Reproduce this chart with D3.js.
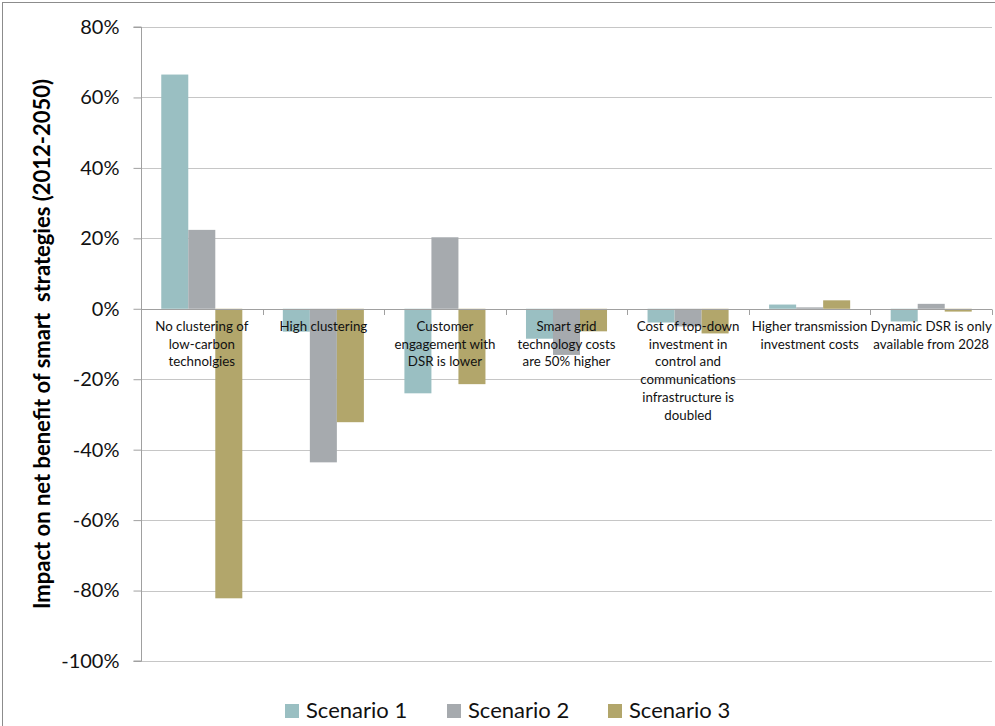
<!DOCTYPE html>
<html>
<head>
<meta charset="utf-8">
<script src="https://cdn.jsdelivr.net/npm/d3@7"></script>
<style>
  html, body { margin: 0; padding: 0; background: #fff; }
  svg { display: block; font-family: Lato, "Open Sans", sans-serif; }
</style>
</head>
<body>
<svg id="chart" width="995" height="726"></svg>
<script>
// Sensitivity cases (multi-line category labels)
const categories = [
  ["No clustering of", "low-carbon", "technolgies"],
  ["High clustering"],
  ["Customer", "engagement with", "DSR is lower"],
  ["Smart grid", "technology costs", "are 50% higher"],
  ["Cost of top-down", "investment in", "control and", "communications", "infrastructure is", "doubled"],
  ["Higher transmission", "investment costs"],
  ["Dynamic DSR is only", "available from 2028"]
];
const seriesNames = ["Scenario 1", "Scenario 2", "Scenario 3"];
// Impact on net benefit, percent
const scenario1 = [66.5, -6.5, -24.0, -8.5, -3.9, 1.2, -3.6];
const scenario2 = [22.4, -43.6, 20.3, -13.1, -5.0, 0.4, 1.4];
const scenario3 = [-82.2, -32.2, -21.4, -6.4, -7.0, 2.4, -0.8];
const yTicks = [80, 60, 40, 20, 0, -20, -40, -60, -80, -100];
const colors = ["#9abfc2", "#a6aaae", "#b2a66b"];

const seriesValues = [scenario1, scenario2, scenario3];
const svg = d3.select("#chart");

// outer chart frame
svg.append("rect")
  .attr("x", 2.5).attr("y", 2.5)
  .attr("width", 1100).attr("height", 900)
  .attr("fill", "none").attr("stroke", "#8c8c8c").attr("stroke-width", 1);

const plot = { left: 141, right: 992, top: 27, bottom: 661 };

const x0 = d3.scaleBand()
  .domain(d3.range(categories.length))
  .range([plot.left, plot.right])
  .paddingInner(1 / 3)
  .paddingOuter(1 / 6);
const x1 = d3.scaleBand()
  .domain(d3.range(seriesNames.length))
  .range([0, x0.bandwidth()]);
const y = d3.scaleLinear().domain([-100, 80]).range([plot.bottom, plot.top]);

// horizontal gridlines
svg.append("g")
  .selectAll("line")
  .data(yTicks)
  .join("line")
  .attr("x1", plot.left).attr("x2", plot.right)
  .attr("y1", d => Math.round(y(d)) + 0.5).attr("y2", d => Math.round(y(d)) + 0.5)
  .attr("stroke", "#c6c6c6").attr("stroke-width", 1.2);

// y axis
const yAxis = d3.axisLeft(y)
  .tickValues(yTicks)
  .tickFormat(d => d + "%")
  .tickSize(8)
  .tickPadding(14);
const gy = svg.append("g")
  .attr("transform", `translate(${plot.left + 0.5},0)`)
  .call(yAxis);
gy.select(".domain").attr("stroke", "#a0a0a0").attr("d", `M-8,${y(80)}H0V${y(-100)}H-8`);
gy.selectAll(".tick line").attr("stroke", "#a0a0a0");
gy.selectAll(".tick text")
  .attr("fill", "#111")
  .style("font-size", "20px")
  .style("font-family", "Lato, 'Open Sans', sans-serif");

// bars
const groups = svg.append("g")
  .selectAll("g")
  .data(categories.map((c, i) => i))
  .join("g")
  .attr("transform", i => `translate(${x0(i)},0)`);
groups.selectAll("rect")
  .data(i => seriesValues.map((s, k) => ({ k, v: s[i] })))
  .join("rect")
  .attr("x", d => x1(d.k))
  .attr("width", x1.bandwidth())
  .attr("y", d => y(Math.max(0, d.v)))
  .attr("height", d => Math.abs(y(d.v) - y(0)))
  .attr("fill", d => colors[d.k]);

// category axis along zero
const xAxis = d3.axisBottom(x0).tickSize(0).tickFormat("");
const gx = svg.append("g")
  .attr("transform", `translate(0,${Math.round(y(0)) + 0.5})`)
  .call(xAxis);
gx.select(".domain").attr("stroke", "#a0a0a0").attr("d", `M${plot.left},0H${plot.right}`);
// category separator ticks
svg.append("g")
  .selectAll("line")
  .data(d3.range(1, categories.length + 1))
  .join("line")
  .attr("x1", i => Math.round(plot.left + i * x0.step()) + 0.5)
  .attr("x2", i => Math.round(plot.left + i * x0.step()) + 0.5)
  .attr("y1", Math.round(y(0)) + 0.5)
  .attr("y2", Math.round(y(0)) + 6)
  .attr("stroke", "#a0a0a0");

// category labels (drawn over the bars)
const labels = svg.append("g")
  .selectAll("text")
  .data(categories)
  .join("text")
  .attr("x", (d, i) => x0(i) + x0.bandwidth() / 2)
  .attr("y", y(0) + 22)
  .attr("text-anchor", "middle")
  .attr("fill", "#111")
  .style("font-size", "13.3px");
labels.selectAll("tspan")
  .data(d => d)
  .join("tspan")
  .attr("x", function () { return d3.select(this.parentNode).attr("x"); })
  .attr("dy", (d, j) => j === 0 ? 0 : 17.8)
  .text(d => d);

// y axis title
svg.append("text")
  .attr("transform", `translate(50,344) rotate(-90)`)
  .attr("text-anchor", "middle")
  .attr("fill", "#000")
  .style("font-size", "22px")
  .style("font-weight", "bold")
  .style("white-space", "pre")
  .text("Impact on net benefit of smart  strategies (2012-2050)");

// legend
const legendX = [285, 447, 608];
const legend = svg.append("g")
  .selectAll("g")
  .data(seriesNames)
  .join("g")
  .attr("transform", (d, i) => `translate(${legendX[i]},0)`);
legend.append("rect")
  .attr("x", 0).attr("y", 704)
  .attr("width", 14).attr("height", 14)
  .attr("fill", (d, i) => colors[i]);
legend.append("text")
  .attr("x", 21).attr("y", 718)
  .attr("fill", "#111")
  .style("font-size", "22px")
  .text(d => d);
</script>
</body>
</html>
